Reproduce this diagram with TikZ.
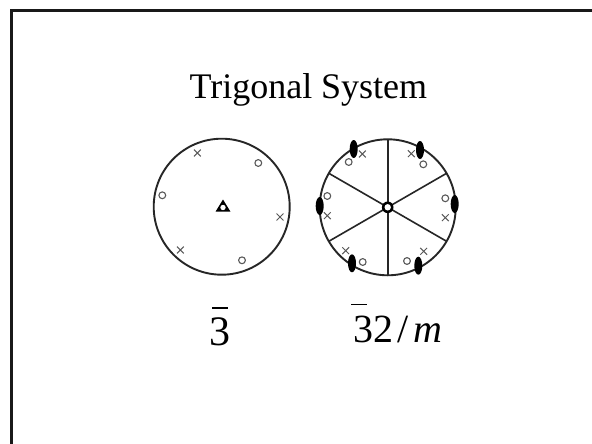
\documentclass[tikz,border=0pt]{standalone}
\usepackage{fontspec}
\setmainfont{Liberation Serif}
\usetikzlibrary{shapes.geometric}
\tikzset{
  x=1pt,y=-1pt,
  rim/.style={draw=black!85,line width=1.9pt},
  spoke/.style={draw=black!85,line width=1.6pt},
  cmark/.style={draw=black!65,line width=1.1pt},
  xmark/.style={draw=black!65,line width=1pt},
  lens/.style={fill=black,ellipse,inner sep=0pt,minimum width=8pt,minimum height=18pt},
  title/.style={font=\fontsize{36}{40}\selectfont,text=black},
  symbig/.style={font=\fontsize{42}{46}\selectfont,text=black},
  sym/.style={font=\fontsize{40}{44}\selectfont,text=black},
}
\newcommand{\xm}[2]{\draw[xmark] (#1-3.4,#2-3.4) -- (#1+3.4,#2+3.4) (#1-3.4,#2+3.4) -- (#1+3.4,#2-3.4);}
\newcommand{\om}[2]{\draw[cmark] (#1,#2) circle (3.4pt);}
\begin{document}
\begin{tikzpicture}
\useasboundingbox (0,0) rectangle (592,444);
\fill[white] (0,0) rectangle (592,444);
\draw[black!90,line width=2.6pt] (11.5,444) -- (11.5,10.5) -- (592,10.5);
\node[title,anchor=base west] (t) at (186,98.3) {Trigonal System};
% left
\coordinate (cl) at (221.7,206.7);
\draw[rim] (cl) circle (68pt);
\xm{197.3}{153} \om{258.3}{163} \om{162.3}{195.3} \xm{280}{217} \xm{180.3}{250} \om{242}{260.3}
\fill[black] (215.5,211.7) -- (223,199.5) -- (230.5,211.7) -- cycle;
\fill[white] (223,207.5) circle (2.7pt);
% right
\coordinate (cr) at (387.7,207.3);
\foreach \a in {30,90,150,210,270,330}
  \draw[spoke] (cr) -- ++(\a:68pt);
\draw[rim] (cr) circle (68pt);
\foreach \p/\q in {353.7/149,420/150,454.7/204,319.7/206,352/263.3,418.3/265.7}
  \node[lens] at (\p,\q) {};
\xm{362.3}{154} \om{348.7}{162} \xm{411.3}{153.7} \om{423.3}{164.3}
\om{445.3}{198.3} \xm{445.3}{217.7} \om{327.3}{196} \xm{327.3}{215.7}
\xm{345.7}{250.7} \om{362.7}{262} \om{407}{261} \xm{423.7}{251.3}
\fill[black] (cr) circle (5.8pt);
\fill[white] (cr) circle (3.2pt);
% symbols
\node[symbig,anchor=base] (a) at (220,345) {3};
\draw[black,line width=1.4pt] (212,308) -- (228,308);
\node[sym,anchor=base west] (b) at (349.5,342) {32\hspace{4.5pt}/\hspace{4.5pt}\textit{m}};
\draw[black,line width=1.4pt] (351,304.5) -- (367,304.5);
\end{tikzpicture}
\end{document}
